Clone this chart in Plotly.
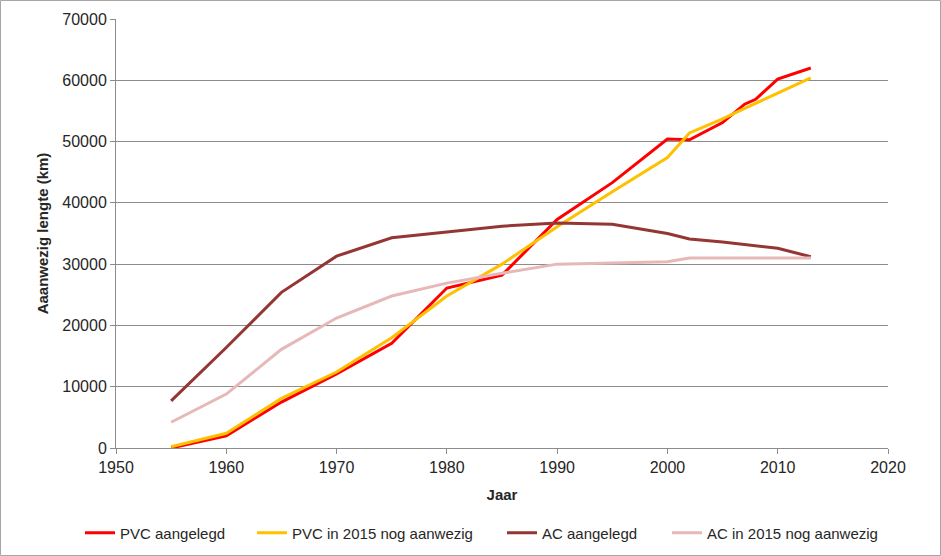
import plotly.graph_objects as go

# Years with a measurement
years = [1955, 1960, 1965, 1970, 1975, 1980, 1985, 1990, 1995,
         2000, 2002, 2005, 2007, 2008, 2010, 2013]

# Pipe length in km per material
pvc_laid = [0, 2000, 7500, 12100, 17100, 26100, 28200, 37300, 43300,
            50400, 50300, 53100, 56100, 56900, 60200, 62000]
pvc_present_2015 = [200, 2400, 8100, 12400, 18000, 24800, 30000, 36100, 41800,
                    47400, 51400, 53700, 55400, 56200, 57900, 60400]
ac_laid = [7700, 16400, 25400, 31300, 34300, 35300, 36200, 36700, 36500,
           35000, 34100, 33600, 33200, 33000, 32600, 31200]
ac_present_2015 = [4200, 8800, 16100, 21200, 24800, 26900, 28500, 30000, 30200,
                   30400, 31000, 31000, 31000, 31000, 31000, 31000]

series_names = ["PVC aangelegd", "PVC in 2015 nog aanwezig",
                "AC aangelegd", "AC in 2015 nog aanwezig"]
series_values = [pvc_laid, pvc_present_2015, ac_laid, ac_present_2015]
series_colors = ["#FF0000", "#FFC000", "#943634", "#E6B9B8"]

W, H = 941, 556
ML, MR, MT, MB = 116, 53, 19, 108
FONT = "Liberation Sans, Arial, sans-serif"
GRID = "#8C8C8C"
TXT = "#262626"

pw, ph = W - ML - MR, H - MT - MB

def px_x(px):
    return (px - ML) / pw

def px_y(py):
    return (H - MB - py) / ph

# one legend box per series so each entry can sit where it belongs
legend_ids = ["legend", "legend2", "legend3", "legend4"]
legend_left_px = [80, 252, 502, 667]

fig = go.Figure()
for name, vals, col, lid in zip(series_names, series_values, series_colors, legend_ids):
    fig.add_trace(go.Scatter(x=years, y=vals, name=name, mode="lines",
                             line=dict(color=col, width=3), legend=lid))

# thin frame around the whole chart area
fig.add_shape(type="rect", xref="paper", yref="paper",
              x0=px_x(0.5), x1=px_x(W - 0.5), y0=px_y(H - 0.5), y1=px_y(0.5),
              line=dict(color="#A6A6A6", width=1), layer="below")

legend_style = dict(orientation="h", yanchor="middle", y=px_y(533),
                    xanchor="left", font=dict(size=15, color=TXT),
                    itemwidth=30, bgcolor="rgba(0,0,0,0)")
layout_legends = {lid: dict(legend_style, x=px_x(lx))
                  for lid, lx in zip(legend_ids, legend_left_px)}

fig.update_layout(
    width=W, height=H,
    margin=dict(l=ML, r=MR, t=MT, b=MB, autoexpand=False),
    paper_bgcolor="white", plot_bgcolor="white",
    font=dict(family=FONT, size=16, color=TXT),
    showlegend=True,
    xaxis=dict(range=[1950, 2020], dtick=10, tick0=1950,
               showgrid=False, zeroline=False,
               showline=True, linecolor=GRID, linewidth=1,
               ticks="outside", ticklen=5, tickcolor=GRID,
               tickfont=dict(size=16),
               title=dict(text="<b>Jaar</b>", font=dict(size=15), standoff=14)),
    yaxis=dict(range=[0, 70000], dtick=10000, tickformat="d",
               showgrid=True, gridcolor=GRID, gridwidth=1, zeroline=False,
               showline=True, linecolor=GRID, linewidth=1,
               ticks="outside", ticklen=5, tickcolor=GRID,
               tickfont=dict(size=16),
               title=dict(text="<b>Aaanwezig lengte (km)</b>", font=dict(size=15),
                          standoff=10)),
    **layout_legends,
)

fig.write_html("out.html")
